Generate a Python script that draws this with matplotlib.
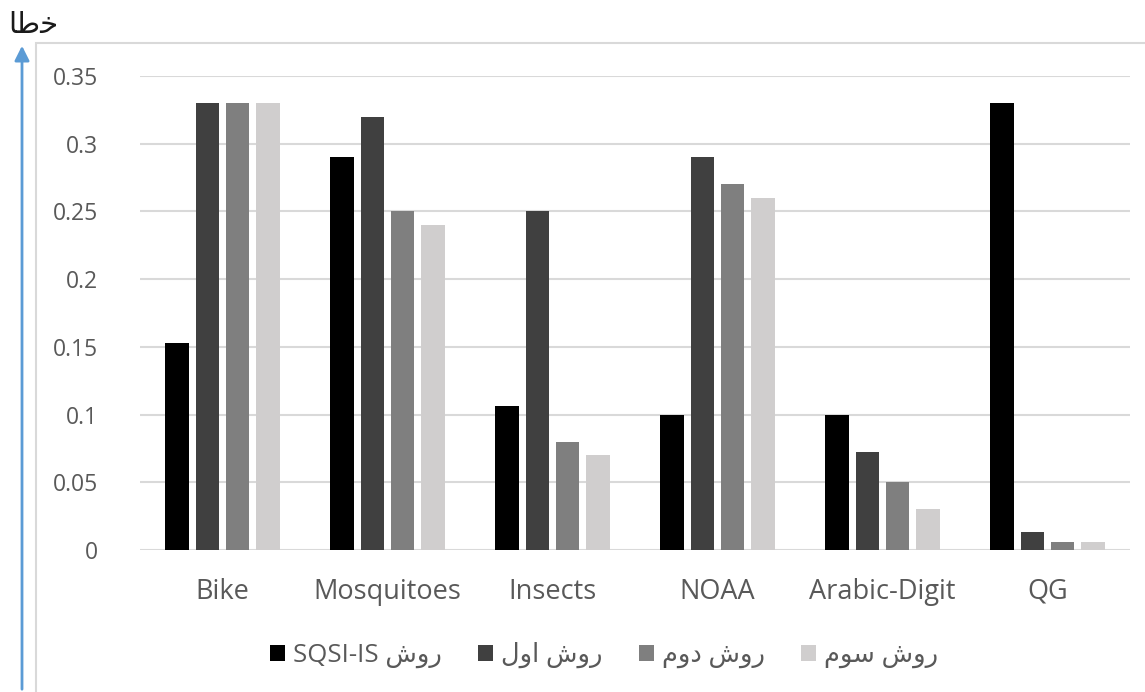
import numpy as np
import matplotlib.pyplot as plt
from matplotlib.patches import Rectangle, FancyArrowPatch

plt.rcParams['font.family'] = ['Open Sans', 'DejaVu Sans']

# Persian text written with presentation forms in visual order (no bidi shaping in matplotlib)
RAVESH = "\uFEB5\uFEED\uFEAD"          # روش
ylabel_text = "\uFE8E\uFEC3\uFEA7"      # خطا

categories = ["Bike", "Mosquitoes", "Insects", "NOAA", "Arabic-Digit", "QG"]
sqsi_is = [0.153, 0.29, 0.106, 0.10, 0.10, 0.33]
method1 = [0.33, 0.32, 0.25, 0.29, 0.072, 0.013]
method2 = [0.33, 0.25, 0.08, 0.27, 0.05, 0.006]
method3 = [0.33, 0.24, 0.07, 0.26, 0.03, 0.006]

series = [sqsi_is, method1, method2, method3]
labels = ["SQSI-IS " + RAVESH,
          "\uFEDD\uFEED\uFE8D " + RAVESH,    # روش اول
          "\uFEE1\uFEED\uFEA9 " + RAVESH,    # روش دوم
          "\uFEE1\uFEEE\uFEB3 " + RAVESH]    # روش سوم
colors = ["#000000", "#404040", "#7f7f7f", "#d0cece"]

fig = plt.figure(figsize=(11.45, 6.92), dpi=100)
ax = fig.add_axes([140 / 1145, 142 / 692, 990 / 1145, 474 / 692])

x = np.arange(len(categories))
width = 0.145
step = 0.182
for i, (vals, lab, col) in enumerate(zip(series, labels, colors)):
    ax.bar(x + (i - 1.5) * step, vals, width, color=col, label=lab, zorder=3)

ax.set_xlim(-0.5, len(categories) - 0.5)
ax.set_ylim(0, 0.35)
ax.set_yticks([0, 0.05, 0.1, 0.15, 0.2, 0.25, 0.3, 0.35])
ax.set_yticklabels(["0", "0.05", "0.1", "0.15", "0.2", "0.25", "0.3", "0.35"])
ax.set_xticks(x)
ax.set_xticklabels(categories)
ax.grid(axis="y", color="#d9d9d9", linewidth=1.5, zorder=0)
for s in ax.spines.values():
    s.set_visible(False)
ax.tick_params(axis="both", length=0, labelcolor="#595959")
ax.tick_params(axis="y", pad=30, labelsize=16.5)
ax.tick_params(axis="x", pad=20, labelsize=19.5)

ax.legend(loc="center", bbox_to_anchor=(604 / 1145, 1 - 655 / 692), bbox_transform=fig.transFigure,
          ncol=4, frameon=False, fontsize=18.5, labelcolor="#595959",
          handlelength=0.6, handleheight=0.6, handletextpad=0.3, columnspacing=1.4)

# chart frame and arrow
fig.patches.append(Rectangle((36 / 1145, -0.1), 1.2, (692 - 43) / 692 + 0.1, transform=fig.transFigure,
                             fill=False, edgecolor="#d9d9d9", linewidth=1.5))
fig.patches.append(FancyArrowPatch(
    (22 / 1145, 0), (22 / 1145, 1 - 43 / 692), transform=fig.transFigure,
    arrowstyle="-|>", color="#5b9bd5", lw=2, mutation_scale=22))
fig.text(8 / 1145, 1 - 25 / 692, ylabel_text, fontsize=21, color="#1a1a1a",
         ha="left", va="center", family="DejaVu Sans")

fig.savefig("out.png", dpi=100)
